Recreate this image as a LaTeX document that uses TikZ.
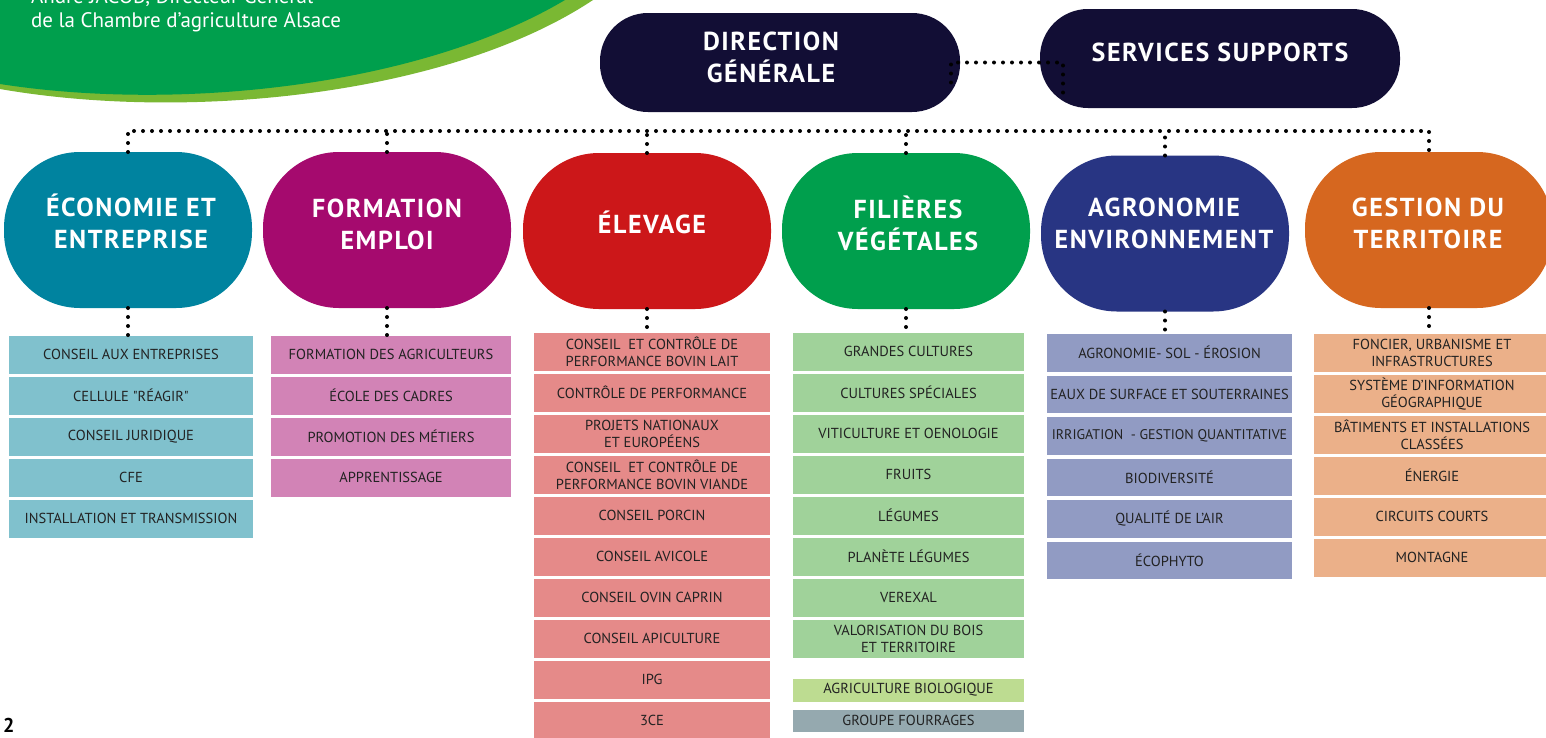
\documentclass[tikz,border=0pt]{standalone}
\usepackage{fontspec}
\setmainfont{PT Sans}
\newfontfamily\headfont[LetterSpace=6]{PT Sans}
\newfontfamily\rawfont{PT Sans}
\usetikzlibrary{positioning}

\definecolor{cLeaf}{HTML}{009F4D}
\definecolor{cLime}{HTML}{7AB833}
\definecolor{cNight}{HTML}{120E35}
\definecolor{cEco}{HTML}{00839F}
\definecolor{cForm}{HTML}{A50A6E}
\definecolor{cElev}{HTML}{CC1719}
\definecolor{cFil}{HTML}{009F4D}
\definecolor{cAgro}{HTML}{283583}
\definecolor{cGest}{HTML}{D6671F}
\definecolor{lEco}{HTML}{80C1CD}
\definecolor{lForm}{HTML}{D283B6}
\definecolor{lElev}{HTML}{E58A89}
\definecolor{lFil}{HTML}{A0D29A}
\definecolor{lBio}{HTML}{BDDC91}
\definecolor{lFour}{HTML}{95A9AF}
\definecolor{lAgro}{HTML}{919BC3}
\definecolor{lGest}{HTML}{EBB089}
\definecolor{cText}{HTML}{222222}

\begin{document}
\begin{tikzpicture}[
            x = 1pt, y = -1pt, % work in pixels, y goes down
            node distance = 3.5pt, % gap between the boxes
            every node/.style = {inner sep = 0pt, outer sep = 0pt},
            dotline/.style = {line width = 4pt, line cap = round, dash pattern = on 0pt off 9pt}
        ]

        \tikzstyle{headpill}=[
            rectangle,
            rounded corners = 48pt,
            fill = cNight,
            minimum width = 360pt,
            minimum height = 99pt
        ]
        \tikzstyle{pill}=[
            rectangle,
            rounded corners = 76pt,
            minimum width = 248pt,
            minimum height = 156pt
        ]
        \tikzstyle{pilltext}=[
            text = white,
            align = center,
            font = \headfont\fontsize{26}{32}\selectfont\bfseries
        ]
        \tikzstyle{box}=[
            rectangle,
            minimum height = 37.5pt,
            align = center,
            text = cText,
            font = \fontsize{14.5}{17}\selectfont
        ]
        \tikzstyle{ecobox}=[box, fill = lEco, minimum width = 244pt]
        \tikzstyle{formbox}=[box, fill = lForm, minimum width = 240pt]
        \tikzstyle{elevbox}=[box, fill = lElev, minimum width = 236pt]
        \tikzstyle{filbox}=[box, fill = lFil, minimum width = 231pt]
        \tikzstyle{agrobox}=[box, fill = lAgro, minimum width = 245pt]
        \tikzstyle{gestbox}=[box, fill = lGest, minimum width = 236pt]

        \useasboundingbox (0,0) rectangle (1546,737);
        \fill[white] (0,0) rectangle (1546,737);

        % green banner, top left
        \fill[cLime] (-20,-20) -- (-20,89) -- (0,89) .. controls (190,122) and (450,95) .. (593,0) -- (600,-20) -- cycle;
        \fill[cLeaf] (-20,-20) -- (-20,84) -- (0,84) .. controls (180,112) and (420,86) .. (565,0) -- (572,-20) -- cycle;
        \node[anchor = base west, text = white, font = \fontsize{21}{24}\selectfont] (who) at (31,3) {André JACOB, Directeur Général};
        \node[anchor = base west, text = white, font = \fontsize{21}{24}\selectfont] (cham) at (31,27) {de la Chambre d’agriculture Alsace};
        \node[anchor = base west, font = \fontsize{20}{20}\selectfont\bfseries] (page) at (3,732) {2};

        \node[headpill] (dg) at (780,62.5) {};
        \node[headpill] (ss) at (1220,58.5) {};
        \node[pilltext] (dgt) at (771,57) {DIRECTION\\GÉNÉRALE};
        \node[pilltext] (sst) at (1220,52) {SERVICES SUPPORTS};

        \node[pill, fill = cEco] (eco) at (128,230) {};
        \node[pill, fill = cForm] (form) at (387,230) {};
        \node[pill, fill = cElev] (elev) at (647,231) {};
        \node[pill, fill = cFil] (fil) at (906,231) {};
        \node[pill, fill = cAgro] (agro) at (1165,233.5) {};
        \node[pill, fill = cGest] (gest) at (1429,230) {};
        \node[pilltext] (ecot) at (131,221.5) {ÉCONOMIE ET\\ENTREPRISE};
        \node[pilltext] (formt) at (387,224) {FORMATION\\EMPLOI};
        \node[pilltext] (elevt) at (652,222) {ÉLEVAGE};
        \node[pilltext] (filt) at (908,223.5) {FILIÈRES\\VÉGÉTALES};
        \node[pilltext] (agrot) at (1164,223) {AGRONOMIE\\ENVIRONNEMENT};
        \node[pilltext] (gestt) at (1428,223.5) {GESTION DU\\TERRITOIRE};

        \node[ecobox, anchor = north] (eco1) at (131,336) {CONSEIL AUX ENTREPRISES};
        \node[ecobox, below = of eco1] (eco2) {CELLULE {\rawfont"}RÉAGIR{\rawfont"}};
        \node[ecobox, below = of eco2] (eco3) {CONSEIL JURIDIQUE};
        \node[ecobox, below = of eco3] (eco4) {CFE};
        \node[ecobox, below = of eco4] (eco5) {INSTALLATION ET TRANSMISSION};

        \node[formbox, anchor = north] (form1) at (391,336) {FORMATION DES AGRICULTEURS};
        \node[formbox, below = of form1] (form2) {ÉCOLE DES CADRES};
        \node[formbox, below = of form2] (form3) {PROMOTION DES MÉTIERS};
        \node[formbox, below = of form3] (form4) {APPRENTISSAGE};

        \node[elevbox, anchor = north] (elev1) at (652,333) {CONSEIL~ ET CONTRÔLE DE\\PERFORMANCE BOVIN LAIT};
        \node[elevbox, below = of elev1] (elev2) {CONTRÔLE DE PERFORMANCE};
        \node[elevbox, below = of elev2] (elev3) {PROJETS NATIONAUX\\ET EUROPÉENS};
        \node[elevbox, below = of elev3] (elev4) {CONSEIL~ ET CONTRÔLE DE\\PERFORMANCE BOVIN VIANDE};
        \node[elevbox, below = of elev4] (elev5) {CONSEIL PORCIN};
        \node[elevbox, below = of elev5] (elev6) {CONSEIL AVICOLE};
        \node[elevbox, below = of elev6] (elev7) {CONSEIL OVIN CAPRIN};
        \node[elevbox, below = of elev7] (elev8) {CONSEIL APICULTURE};
        \node[elevbox, below = of elev8] (elev9) {IPG};
        \node[elevbox, below = of elev9] (elev10) {3CE};

        \node[filbox, anchor = north] (fil1) at (908.5,333) {GRANDES CULTURES};
        \node[filbox, below = of fil1] (fil2) {CULTURES SPÉCIALES};
        \node[filbox, below = of fil2] (fil3) {VITICULTURE ET OENOLOGIE};
        \node[filbox, below = of fil3] (fil4) {FRUITS};
        \node[filbox, below = of fil4] (fil5) {LÉGUMES};
        \node[filbox, below = of fil5] (fil6) {PLANÈTE LÉGUMES};
        \node[filbox, below = of fil6] (fil7) {VEREXAL};
        \node[filbox, below = of fil7] (fil8) {VALORISATION DU BOIS\\ET TERRITOIRE};
        \node[filbox, fill = lBio, minimum height = 23pt, below = 21pt of fil8] (fil9) {AGRICULTURE BIOLOGIQUE};
        \node[filbox, fill = lFour, minimum height = 22pt, below = 8pt of fil9] (fil10) {GROUPE FOURRAGES};

        \node[agrobox, anchor = north] (agro1) at (1169.5,334) {AGRONOMIE- SOL - ÉROSION};
        \node[agrobox, below = 4pt of agro1] (agro2) {EAUX DE SURFACE ET SOUTERRAINES};
        \node[agrobox, below = 4pt of agro2] (agro3) {\fontsize{14}{17}\selectfont IRRIGATION~ - GESTION QUANTITATIVE};
        \node[agrobox, below = 4pt of agro3] (agro4) {BIODIVERSITÉ};
        \node[agrobox, below = 4pt of agro4] (agro5) {QUALITÉ DE L’AIR};
        \node[agrobox, below = 4pt of agro5] (agro6) {ÉCOPHYTO};

        \node[gestbox, anchor = north] (gest1) at (1432,334) {FONCIER, URBANISME ET\\INFRASTRUCTURES};
        \node[gestbox, below = of gest1] (gest2) {SYSTÈME D’INFORMATION\\GÉOGRAPHIQUE};
        \node[gestbox, below = of gest2] (gest3) {BÂTIMENTS ET INSTALLATIONS\\CLASSÉES};
        \node[gestbox, below = of gest3] (gest4) {ÉNERGIE};
        \node[gestbox, below = of gest4] (gest5) {CIRCUITS COURTS};
        \node[gestbox, below = of gest5] (gest6) {MONTAGNE};

        % dotted links
        \coordinate (bus) at (0,131);
        \coordinate (c1) at ([xshift=-9pt]dg.east);
        \coordinate (c2) at ([xshift=23pt]c1 -| ss.west);
        \draw[dotline] ([yshift=-20pt]c1) -- (c1) -- (c2) -- ([yshift=-30pt]c2);

        \draw[dotline] (eco.north) -- (eco.north |- bus) -| (gest.north);
        \draw[dotline] (form.north) -- (form.north |- bus);
        \draw[dotline] (elev.north) -- (elev.north |- bus);
        \draw[dotline] (fil.north) -- (fil.north |- bus);
        \draw[dotline] (agro.north) -- (agro.north |- bus);

        \draw[dotline] (eco.south) -- (eco.south |- eco1.north);
        \draw[dotline] (form.south) -- (form.south |- form1.north);
        \draw[dotline] (elev.south) -- (elev.south |- elev1.north);
        \draw[dotline] (fil.south) -- (fil.south |- fil1.north);
        \draw[dotline] (agro.south) -- (agro.south |- agro1.north);
        \draw[dotline] (gest.south) -- (gest.south |- gest1.north);

    \end{tikzpicture}
\end{document}
